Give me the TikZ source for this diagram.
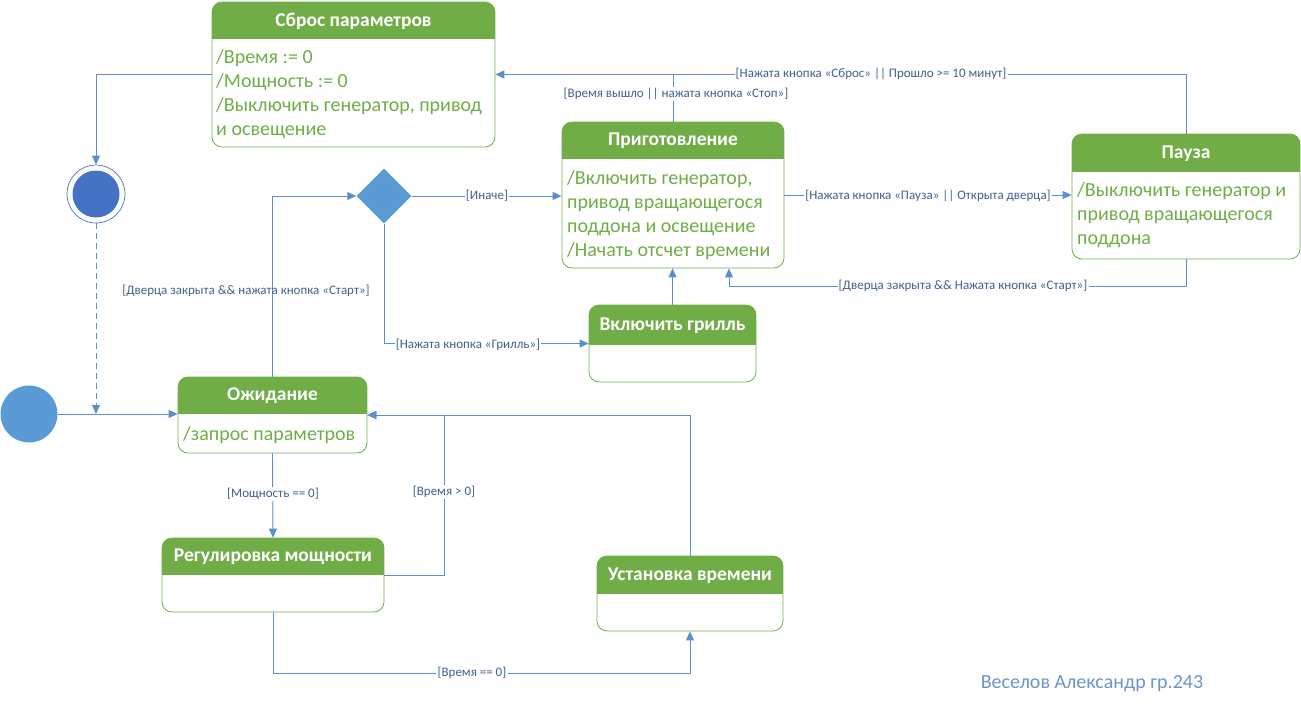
\documentclass[tikz,border=0pt]{standalone}
\usepackage{fontspec}
\setmainfont{Carlito}
\usetikzlibrary{arrows.meta,fit,shapes.geometric}
\definecolor{hdr}{HTML}{70AD47}
\definecolor{bodytxt}{HTML}{70AD47}
\definecolor{lineblue}{HTML}{5B8FCB}
\definecolor{shapeblue}{HTML}{5B9BD5}
\definecolor{finblue}{HTML}{4472C4}
\definecolor{lblcol}{HTML}{41608F}
\definecolor{signcol}{HTML}{6C94CC}
\newcommand\umlstate[7]{%
  \coordinate (#1-a) at (#2,#3); \coordinate (#1-b) at (#4,#5);
  \begin{scope}\clip[rounded corners=10pt] (#2,#3) rectangle (#4,#5);
    \fill[hdr] (#2,#3) rectangle (#4,#6);\end{scope}
  \node[statebox, fit=(#1-a)(#1-b)] (#1) {};
  \node[titletext] (#1-t) at ({(#2+#4)/2},{(#3+#6)/2+0.5}) {#7};
}
\begin{document}
\begin{tikzpicture}[x=1pt,y=-1pt,
  statebox/.style={draw=hdr, line width=0.8pt, rounded corners=10pt, inner sep=0pt},
  titletext/.style={text=white, font=\fontsize{19.5}{21}\selectfont\bfseries, inner sep=0pt},
  bodytext/.style={text=bodytxt, font=\fontsize{20}{24}\selectfont, align=left, anchor=north west, inner sep=0pt},
  conn/.style={draw=lineblue, line width=0.9pt, -{Triangle[length=9pt,width=8pt]}},
  plain/.style={draw=lineblue, line width=0.9pt},
  lbl/.style={text=lblcol, font=\fontsize{13}{15}\selectfont, fill=white, inner sep=1.2pt},
  lblclear/.style={text=lblcol, font=\fontsize{13}{15}\selectfont, inner sep=1.2pt}]
\useasboundingbox (0,0) rectangle (1301,705);

% states
\umlstate{reset}{212}{2}{495}{147}{39}{Сброс параметров}
\node[bodytext] (reset-b) at (216,49) {/Время := 0\\/Мощность := 0\\/Выключить генератор, привод\\и освещение};

\umlstate{cook}{562}{122}{784}{268}{159}{Приготовление}
\node[bodytext] (cook-b) at (567,170) {/Включить генератор,\\привод вращающегося\\поддона и освещение\\/Начать отсчет времени};

\umlstate{pause}{1072}{134}{1300}{259}{172}{Пауза}
\node[bodytext] (pause-b) at (1077,182) {/Выключить генератор и\\привод вращающегося\\поддона};

\umlstate{grill}{589}{305}{756}{382}{345}{Включить грилль}

\umlstate{wait}{178}{377}{367}{453}{414}{Ожидание}
\node[bodytext] (wait-b) at (183,426) {/запрос параметров};

\umlstate{power}{162}{538}{384}{612}{575}{Регулировка мощности}

\umlstate{settime}{597}{556}{783}{631}{594}{Установка времени}

% pseudo states
\node[circle, fill=shapeblue, minimum size=57pt, inner sep=0pt] (init) at (29,414) {};
\node[circle, draw=finblue, line width=0.7pt, minimum size=58pt, inner sep=0pt] (fin) at (96,194) {};
\node[circle, fill=finblue, minimum size=47pt, inner sep=0pt] (fininner) at (96,194) {};
\node[diamond, fill=shapeblue, minimum width=55pt, minimum height=55pt, inner sep=0pt] (dec) at (384,196) {};

\coordinate (join) at (96,414);

% connectors
\draw[conn] (init.east) -- (init.east -| wait.west);
\draw[conn, dashed, dash pattern=on 6pt off 4pt] (fin.south) -- (join);
\draw[conn] (reset.west) -| (fin.north);

\draw[conn] (wait.north) |- (dec.west);
\node[lblclear] (l1) at (246,291) {[Дверца закрыта \&\& нажата кнопка «Старт»]};

\draw[conn] (dec.east) -- (dec.east -| cook.west);
\node[lbl] (l2) at (487,196) {[Иначе]};

\draw[conn] (dec.south) |- (grill.west);
\node[lbl] (l3) at (468,345) {[Нажата кнопка «Грилль»]};

\draw[conn] (grill.north) -- (grill.north |- cook.south);

\draw[conn] (cook.east) -- (cook.east -| pause.west);
\node[lbl] (l4) at (928,196) {[Нажата кнопка «Пауза» || Открыта дверца]};

\draw[conn] (pause.south) -- ++(0,27) -| ([xshift=56pt]cook.south);
\node[lbl] (l5) at (963,286) {[Дверца закрыта \&\& Нажата кнопка «Старт»]};

\draw[conn] (pause.north) |- (reset.east);
\node[lbl] (l6) at (871,74) {[Нажата кнопка «Сброс» || Прошло >= 10 минут]};

\draw[plain] (cook.north) -- (cook.north |- reset.east);
\node[lbl] (l7) at (676,94) {[Время вышло || нажата кнопка «Стоп»]};

\draw[conn] (wait.south) -- (power.north);
\node[lbl] (l8) at (273,494) {[Мощность == 0]};

\draw[conn] (power.east) -- ++(60,0) |- (wait.east);
\node[lbl] (l9) at (444,492) {[Время > 0]};

\draw[conn] (settime.north) |- (wait.east);

\draw[conn] (power.south) -- ++(0,61) -| (settime.south);
\node[lbl] (l10) at (472,673) {[Время == 0]};

\node[text=signcol, font=\fontsize{20}{22}\selectfont] (sign) at (1092,684) {Веселов Александр гр.243};
\end{tikzpicture}
\end{document}
